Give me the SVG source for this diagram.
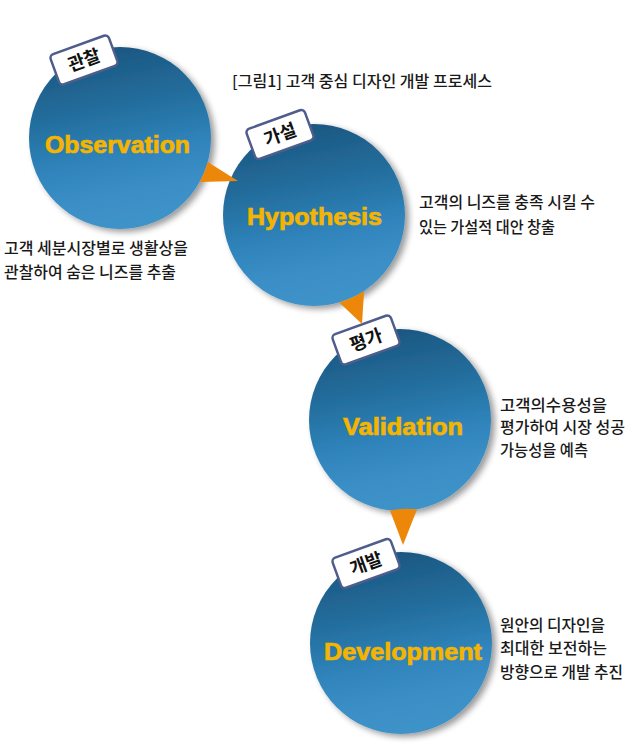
<svg xmlns="http://www.w3.org/2000/svg" width="640" height="755" viewBox="0 0 640 755">
<style>
.ball{fill:url(#ballGrad);filter:url(#shadow)}
.lbl{font-family:"Liberation Sans",Arial,sans-serif;font-weight:bold;font-size:23px;fill:#f4b400;stroke:#f4b400;stroke-width:0.7;text-anchor:middle}
.tag rect{fill:#ffffff;stroke:#4f5d8c;stroke-width:2.5}
.tag text{font-family:"Noto Sans CJK KR","Noto Sans",sans-serif;font-weight:bold;font-size:18px;fill:#111111;text-anchor:middle}
.note{font-family:"Noto Sans CJK KR","Noto Sans",sans-serif;font-weight:500;font-size:16px;fill:#1a1a1a}
.title{font-family:"Noto Sans CJK KR","Noto Sans",sans-serif;font-weight:500;font-size:15.5px;fill:#1a1a1a}
.arrow{fill:#ec8709}
</style>
<defs>
<linearGradient id="ballGrad" x1="0.4" y1="0" x2="0.6" y2="1">
<stop offset="0" stop-color="#1b5680"/>
<stop offset="0.35" stop-color="#246f9f"/>
<stop offset="0.6" stop-color="#2f84bb"/>
<stop offset="0.8" stop-color="#3b8fc6"/>
<stop offset="1" stop-color="#3f93c9"/>
</linearGradient>
<filter id="shadow" x="-20%" y="-20%" width="150%" height="150%">
<feGaussianBlur in="SourceAlpha" stdDeviation="3"/>
<feOffset dx="4" dy="3" result="o"/>
<feComponentTransfer><feFuncA type="linear" slope="0.4"/></feComponentTransfer>
<feMerge><feMergeNode/><feMergeNode in="SourceGraphic"/></feMerge>
</filter>
</defs>
<rect width="640" height="755" fill="#ffffff"/>

<text class="title" x="232" y="87" textLength="260" lengthAdjust="spacingAndGlyphs">[그림1] 고객 중심 디자인 개발 프로세스</text>

<g id="node-observation">
<circle class="ball" cx="120" cy="138" r="91"/>
<text class="lbl" x="117.5" y="153" textLength="145" lengthAdjust="spacingAndGlyphs">Observation</text>
<g class="tag" transform="translate(84,60) rotate(-20)"><rect x="-31" y="-16" width="62" height="32" rx="4"/><text x="0" y="6.5">관찰</text></g>
</g>

<g id="node-hypothesis">
<circle class="ball" cx="314" cy="215" r="91"/>
<text class="lbl" x="314.5" y="225" textLength="135" lengthAdjust="spacingAndGlyphs">Hypothesis</text>
<g class="tag" transform="translate(280,134.5) rotate(-20)"><rect x="-31" y="-16" width="62" height="32" rx="4"/><text x="0" y="6.5">가설</text></g>
</g>

<g id="node-validation">
<circle class="ball" cx="400" cy="420" r="91"/>
<text class="lbl" x="403" y="435" textLength="120" lengthAdjust="spacingAndGlyphs">Validation</text>
<g class="tag" transform="translate(366,340) rotate(-20)"><rect x="-31" y="-16" width="62" height="32" rx="4"/><text x="0" y="6.5">평가</text></g>
</g>

<g id="node-development">
<circle class="ball" cx="401" cy="643" r="91"/>
<text class="lbl" x="403" y="660" textLength="158" lengthAdjust="spacingAndGlyphs">Development</text>
<g class="tag" transform="translate(366,563.5) rotate(-20)"><rect x="-31" y="-16" width="62" height="32" rx="4"/><text x="0" y="6.5">개발</text></g>
</g>

<g id="connectors">
<path class="arrow" d="M207.8,161.9 L238,181 L199.6,182.1 A91,91 0 0,0 207.8,161.9 Z"/>
<path class="arrow" d="M339.3,302.4 L362,324 L364.06,291 A91,91 0 0,1 339.3,302.4 Z"/>
<path class="arrow" d="M417,509.4 L403,545 L390,510.45 A91,91 0 0,1 417,509.4 Z"/>
</g>

<g id="note-observation">
<text class="note" x="4" y="254" textLength="184" lengthAdjust="spacingAndGlyphs">고객 세분시장별로 생활상을</text>
<text class="note" x="4" y="278" textLength="172" lengthAdjust="spacingAndGlyphs">관찰하여 숨은 니즈를 추출</text>
</g>
<g id="note-hypothesis">
<text class="note" x="419" y="208" textLength="176" lengthAdjust="spacingAndGlyphs">고객의 니즈를 충족 시킬 수</text>
<text class="note" x="419" y="233" textLength="136" lengthAdjust="spacingAndGlyphs">있는 가설적 대안 창출</text>
</g>
<g id="note-validation">
<text class="note" x="500" y="411" textLength="107" lengthAdjust="spacingAndGlyphs">고객의수용성을</text>
<text class="note" x="500" y="433" textLength="125" lengthAdjust="spacingAndGlyphs">평가하여 시장 성공</text>
<text class="note" x="500" y="456" textLength="88" lengthAdjust="spacingAndGlyphs">가능성을 예측</text>
</g>
<g id="note-development">
<text class="note" x="500" y="631" textLength="105" lengthAdjust="spacingAndGlyphs">원안의 디자인을</text>
<text class="note" x="500" y="654" textLength="107" lengthAdjust="spacingAndGlyphs">최대한 보전하는</text>
<text class="note" x="500" y="678" textLength="123" lengthAdjust="spacingAndGlyphs">방향으로 개발 추진</text>
</g>
</svg>
